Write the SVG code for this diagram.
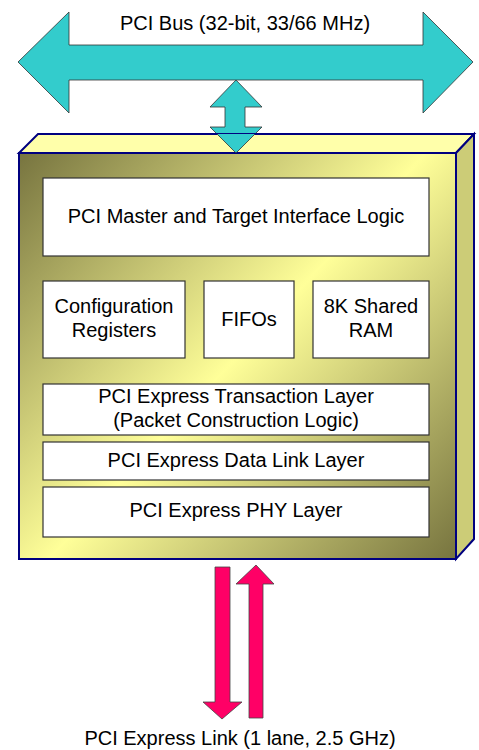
<svg xmlns="http://www.w3.org/2000/svg" width="479" height="750" viewBox="0 0 479 750">
<defs>
<linearGradient id="face" x1="19" y1="153" x2="456" y2="559" gradientUnits="userSpaceOnUse">
<stop offset="0" stop-color="#77743f"/>
<stop offset="0.5" stop-color="#ffff99"/>
<stop offset="1" stop-color="#77743f"/>
</linearGradient>
<style>
.t{font-family:"Liberation Sans",Arial,sans-serif;font-size:20px;fill:#000;text-anchor:middle}
.blk{fill:#fff;stroke:#333;stroke-width:1.2}
.cy{fill:#33cccc;stroke:#333;stroke-width:0.8}
.rd{fill:#ff0066;stroke:#444;stroke-width:0.8}
.edge{stroke:#000080;stroke-width:2;stroke-linejoin:miter}
</style>
</defs>
<g id="connectors">
<path class="cy" d="M18,62 L69,12 L69,45 L423,45 L423,12 L473,62 L423,113 L423,80 L69,80 L69,113 Z"/>
<path class="cy" d="M236,80 L262,107 L245,107 L245,127 L262,127 L236,153 L210,127 L225,127 L225,107 L210,107 Z"/>
<path class="rd" d="M215,567 L230,567 L230,702 L242,702 L222,719 L203,702 L215,702 Z"/>
<path class="rd" d="M256,565 L274,584 L263,584 L263,718 L249,718 L249,584 L236,584 Z"/>
</g>
<g id="chip">
<polygon class="edge" points="19,153 38,134 474,134 456,153" fill="#ffffaa"/>
<polygon class="edge" points="456,153 474,134 474,539 456,559" fill="#cccc77"/>
<rect class="edge" x="19" y="153" width="437" height="406" fill="url(#face)"/>
</g>
<path d="M217,134 L236,153 L255,134 Z" fill="#33cccc" stroke="none"/>
<path d="M217,134 L236,153 L255,134" fill="none" stroke="#333" stroke-width="0.8"/>
<g id="master"><rect class="blk" x="43" y="178" width="386" height="78"/><text class="t" x="236" y="223">PCI Master and Target Interface Logic</text></g>
<g id="config"><rect class="blk" x="43" y="281" width="142" height="77"/><text class="t" x="114" y="313">Configuration</text><text class="t" x="114" y="337">Registers</text></g>
<g id="fifos"><rect class="blk" x="204" y="281" width="90" height="77"/><text class="t" x="249" y="326">FIFOs</text></g>
<g id="ram"><rect class="blk" x="313" y="281" width="116" height="77"/><text class="t" x="371" y="313">8K Shared</text><text class="t" x="371" y="337">RAM</text></g>
<g id="transaction"><rect class="blk" x="43" y="384" width="386" height="51"/><text class="t" x="236" y="403">PCI Express Transaction Layer</text><text class="t" x="236" y="427">(Packet Construction Logic)</text></g>
<g id="datalink"><rect class="blk" x="43" y="442" width="386" height="38"/><text class="t" x="236" y="467">PCI Express Data Link Layer</text></g>
<g id="phy"><rect class="blk" x="43" y="487" width="386" height="50"/><text class="t" x="236" y="517">PCI Express PHY Layer</text></g>
<g id="labels">
<text class="t" x="245" y="30">PCI Bus (32-bit, 33/66 MHz)</text>
<text class="t" x="240" y="745">PCI Express Link (1 lane, 2.5 GHz)</text>
</g>
</svg>
